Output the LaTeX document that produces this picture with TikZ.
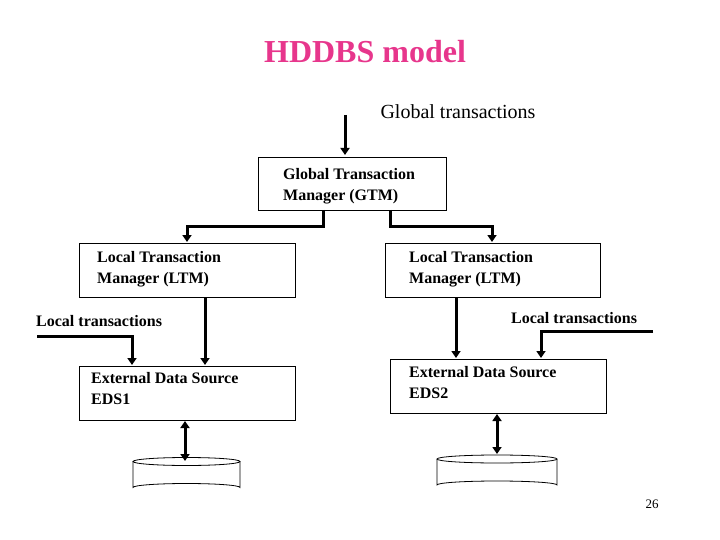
\documentclass[tikz,border=0pt]{standalone}
\usepackage{fontspec}
\setmainfont{Liberation Serif}
\usetikzlibrary{arrows.meta}
\definecolor{titlepink}{RGB}{231,54,140}
\begin{document}
\begin{tikzpicture}[x=1pt,y=-1pt,
  box/.style={draw,line width=0.8pt},
  lbl/.style={font=\fontsize{16}{21}\selectfont\bfseries,align=left,anchor=north west,inner sep=0pt},
  conn/.style={line width=3pt,-{Triangle[length=7pt,width=9pt]}},
  dconn/.style={line width=3pt,{Triangle[length=7pt,width=9pt]}-{Triangle[length=7pt,width=9pt]}}]
\useasboundingbox (0,0) rectangle (720,540);
\node[font=\fontsize{32}{36}\selectfont\bfseries,text=titlepink] (title) at (365,52) {HDDBS model};
\node[font=\fontsize{20}{24}\selectfont] (gt) at (458,112) {Global transactions};
\coordinate (gtin) at (345,115);
\draw[box] (258,157) rectangle (446,210);
\coordinate (gtm) at (352,183);
\node[lbl] (gtmt) at (283,168) {Global Transaction\\Manager (GTM)};
\draw[box] (79,243) rectangle (295,297);
\node[lbl] (l1t) at (97,251) {Local Transaction\\Manager (LTM)};
\draw[box] (385,243) rectangle (600,297);
\node[lbl] (l2t) at (409,251) {Local Transaction\\Manager (LTM)};
\draw[box] (79,366) rectangle (295,420);
\node[lbl] (e1t) at (91,372) {External Data Source\\EDS1};
\draw[box] (390,359) rectangle (606,413);
\node[lbl] (e2t) at (409,366) {External Data Source\\EDS2};
\node[lbl] (lt1) at (36,315) {Local transactions};
\node[lbl] (lt2) at (511,312) {Local transactions};
\node[font=\fontsize{13}{15}\selectfont] (pg) at (652,504) {26};
% connectors
\draw[conn] (345,115) -- (345,155);
\draw[conn] (323,210) |- (187,227) -- (187,242);
\draw[conn] (390,210) |- (492,227) -- (492,242);
\draw[conn] (205,297) -- (205,365);
\draw[conn] (456,297) -- (456,358);
\draw[conn] (37,336) -| (132,365);
\draw[conn] (653,331) -| (541,358);
\draw[dconn] (185,421) -- (185,461);
\draw[dconn] (497,414) -- (497,454);
% cylinders
\foreach \cx/\cy/\w in {186.5/461.5/53.5, 497/459/60}{
  \draw[line width=0.8pt] (\cx,\cy) ellipse [x radius=\w, y radius=4];
  \draw[line width=0.8pt] (\cx-\w,\cy) -- (\cx-\w,\cy+26) arc[start angle=180,end angle=360,x radius=\w,y radius=4] -- (\cx+\w,\cy);
}
\end{tikzpicture}
\end{document}
